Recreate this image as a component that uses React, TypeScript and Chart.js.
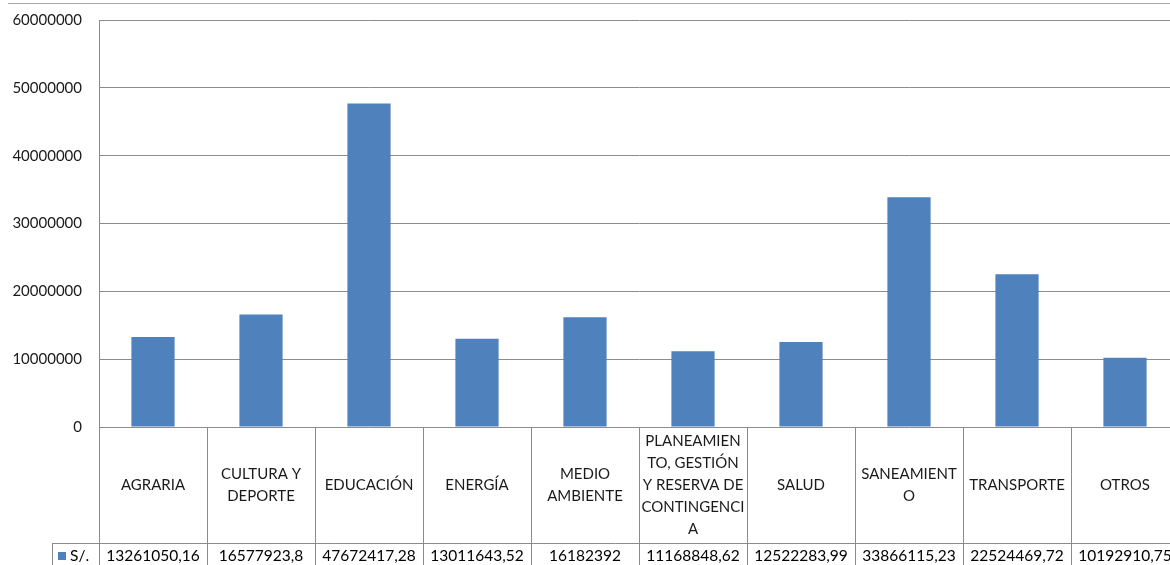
import React, { useEffect, useRef } from "react";
import { Chart, registerables } from "chart.js";

Chart.register(...registerables);

const categories: string[] = [
  "AGRARIA",
  "CULTURA Y DEPORTE",
  "EDUCACIÓN",
  "ENERGÍA",
  "MEDIO AMBIENTE",
  "PLANEAMIENTO, GESTIÓN Y RESERVA DE CONTINGENCIA",
  "SALUD",
  "SANEAMIENTO",
  "TRANSPORTE",
  "OTROS",
];

const categoryLines: string[][] = [
  ["AGRARIA"],
  ["CULTURA Y", "DEPORTE"],
  ["EDUCACIÓN"],
  ["ENERGÍA"],
  ["MEDIO", "AMBIENTE"],
  ["PLANEAMIEN", "TO, GESTIÓN", "Y RESERVA DE", "CONTINGENCI", "A"],
  ["SALUD"],
  ["SANEAMIENT", "O"],
  ["TRANSPORTE"],
  ["OTROS"],
];

const values: number[] = [
  13261050.16, 16577923.8, 47672417.28, 13011643.52, 16182392,
  11168848.62, 12522283.99, 33866115.23, 22524469.72, 10192910.75,
];

const seriesName = "S/.";
const yMax = 60000000;
const yStep = 10000000;

const BAR_COLOR = "#4F81BD";
const LINE_COLOR = "#8c8c8c";
const FONT = "Lato, 'Open Sans', sans-serif";

const tablePlugin = {
  id: "dataTable",
  afterDraw(chart: any) {
    const { ctx, chartArea, scales } = chart;
    const xs = scales.x;
    const n = categories.length;
    const top = chartArea.bottom;
    const bottom = chart.height;
    const rowSplit = top + 116;
    const catW = (chartArea.right - chartArea.left) / n;
    ctx.save();
    ctx.strokeStyle = LINE_COLOR;
    ctx.lineWidth = 1;
    for (let i = 0; i <= n; i++) {
      const x = Math.round(chartArea.left + i * catW) + 0.5;
      ctx.beginPath();
      ctx.moveTo(x, top);
      ctx.lineTo(x, bottom);
      ctx.stroke();
    }
    const legLeft = 52.5;
    ctx.beginPath();
    ctx.moveTo(legLeft, rowSplit + 0.5);
    ctx.lineTo(chartArea.right, rowSplit + 0.5);
    ctx.moveTo(legLeft, rowSplit);
    ctx.lineTo(legLeft, bottom);
    ctx.stroke();

    ctx.textAlign = "center";
    ctx.textBaseline = "middle";
    ctx.fillStyle = "#1a1a1a";
    ctx.font = `15px ${FONT}`;
    const lineH = 22;
    const mid = (top + rowSplit) / 2;
    for (let i = 0; i < n; i++) {
      const cx = xs.getPixelForValue(i);
      const lines = categoryLines[i];
      const start = mid - ((lines.length - 1) * lineH) / 2;
      lines.forEach((ln, j) => ctx.fillText(ln, cx, start + j * lineH));
    }
    ctx.font = `15.5px ${FONT}`;
    ctx.fillStyle = "#000";
    const vy = rowSplit + 13;
    for (let i = 0; i < n; i++) {
      const cx = xs.getPixelForValue(i);
      ctx.fillText(String(values[i]).replace(".", ","), cx, vy);
    }
    ctx.fillStyle = BAR_COLOR;
    ctx.fillRect(58, vy - 4, 8, 8);
    ctx.fillStyle = "#000";
    ctx.textAlign = "left";
    ctx.fillText(seriesName, 70, vy);
    ctx.restore();
  },
};

export default function App() {
  const ref = useRef<HTMLCanvasElement>(null);
  useEffect(() => {
    if (!ref.current) return;
    const chart = new Chart(ref.current, {
      type: "bar",
      data: {
        labels: categories,
        datasets: [
          {
            label: seriesName,
            data: values,
            backgroundColor: BAR_COLOR,
            barPercentage: 0.4,
            categoryPercentage: 1,
          },
        ],
      },
      options: {
        responsive: false,
        animation: false,
        layout: { padding: { top: 20, bottom: 138, left: 0, right: 6 } },
        plugins: {
          legend: { display: false },
          tooltip: { enabled: false },
        },
        scales: {
          x: {
            grid: { display: false },
            ticks: { display: false },
            border: { display: false },
            afterFit(s: any) {
              s.height = 0;
            },
          },
          y: {
            min: 0,
            max: yMax,
            ticks: {
              stepSize: yStep,
              color: "#1a1a1a",
              font: { family: FONT, size: 15 },
              padding: 17,
              callback: (v: any) => String(v),
            },
            grid: { color: LINE_COLOR, drawTicks: false },
            border: { color: LINE_COLOR },
            afterFit(s: any) {
              s.width = 99;
              s.paddingTop = 0;
              s.paddingBottom = 0;
            },
          },
        },
      },
      plugins: [tablePlugin],
    });
    return () => chart.destroy();
  }, []);

  return (
    <div
      style={{
        position: "fixed",
        left: 0,
        top: 0,
        width: 1170,
        height: 565,
        overflow: "hidden",
        background: "#fff",
      }}
    >
      <div
        style={{
          position: "absolute",
          left: 8,
          top: 3,
          width: 1162,
          height: 1,
          background: "#a6a6a6",
        }}
      />
      <canvas
        ref={ref}
        width={1185}
        height={565}
        style={{ position: "absolute", left: 0, top: 0, width: 1185, height: 565 }}
      />
    </div>
  );
}
